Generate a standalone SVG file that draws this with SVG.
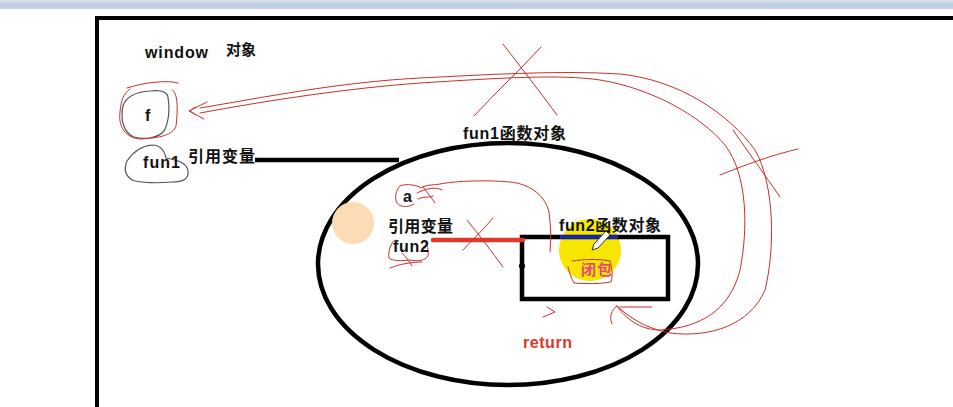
<svg xmlns="http://www.w3.org/2000/svg" width="953" height="407" viewBox="0 0 953 407">
<defs>
<linearGradient id="bar" x1="0" y1="0" x2="0" y2="1">
<stop offset="0" stop-color="#dde5ef"/>
<stop offset="0.5" stop-color="#bccbe0"/>
<stop offset="1" stop-color="#c9d5e6"/>
</linearGradient>
</defs>
<style>
.t{font-family:"Liberation Sans","Noto Sans CJK SC",sans-serif;font-weight:bold;font-size:16px;fill:#111}
.red{fill:none;stroke:#c8302a;stroke-width:1;stroke-linecap:round;stroke-linejoin:round}
.gray{fill:none;stroke:#555;stroke-width:1.2;stroke-linecap:round}
.blk{fill:none;stroke:#000;stroke-width:4.5}
</style>
<rect x="0" y="0" width="953" height="407" fill="#fff"/>
<rect x="0" y="0" width="953" height="9" fill="url(#bar)"/>
<path d="M97,407 V18 H953" fill="none" stroke="#000" stroke-width="4"/>

<g id="window-label">
<text class="t" x="145" y="58" textLength="63">window</text>
<text class="t" x="226" y="55" style="font-size:15px">对象</text>
</g>

<g id="node-f">
<path class="gray" d="M123,106 C126,96 136,92 150,91 C160,90 167,91 168,97 C170,108 169,122 164,131 C158,138 145,140 134,137 C124,133 120,120 123,106 Z"/>
<path class="red" d="M127,88 C145,82 168,80 178,83 M172,90 C178,92 178,110 176,126 C173,135 160,138 140,139 C126,138 118,127 120,112 C121,100 124,93 130,89"/>
<text class="t" x="145" y="121">f</text>
</g>

<g id="node-fun1">
<path class="gray" d="M127,161 C133,152 142,146 152,145 C160,145 164,149 166,158 C178,160 187,163 188,171 C189,179 183,182 172,182 C160,183 145,183 135,181 C126,178 123,170 127,161 Z"/>
<text class="t" x="143" y="168" textLength="37">fun1</text>
<text class="t" x="188" y="162" textLength="67">引用变量</text>
</g>

<g id="fun1-object">
<ellipse class="blk" cx="508" cy="264" rx="190" ry="121"/>
<text class="t" x="463" y="139" textLength="103">fun1函数对象</text>
<circle cx="353" cy="223" r="21" fill="#fcdcb4"/>
</g>

<g id="node-a">
<path class="red" d="M400,186 C396,190 394,198 397,203 C400,207 408,208 414,204 M420,187 C412,184 404,184 400,186"/>
<path class="red" d="M417,193 C425,189 435,186 442,190 M423,187 C428,193 432,199 435,203 M418,199 C424,196 428,198 433,196"/>
<text class="t" x="403" y="202">a</text>
</g>

<g id="node-fun2-ref">
<text class="t" x="388" y="232" textLength="65">引用变量</text>
<path class="red" d="M395,240 C390,244 388,252 389,258 C392,261 402,261 410,260 C418,262 426,260 428,256 C429,250 427,244 424,241 M390,268 C400,264 412,262 422,262 M402,253 C406,257 409,261 412,266"/>
<text class="t" x="393" y="252" textLength="36">fun2</text>
</g>

<g id="fun2-object">
<circle cx="590" cy="250" r="31" fill="#f7e600"/>
<rect class="blk" x="522" y="237" width="146" height="62"/>
<line x1="560" y1="237" x2="618" y2="237" stroke="#1428c8" stroke-width="3.5"/>
<circle cx="522" cy="266" r="3" fill="#000"/>
<text class="t" x="559" y="231" textLength="102">fun2函数对象</text>
<path d="M606,231 L610,235 L598,248 L592,250 L594,244 Z" fill="#fff" stroke="#333" stroke-width="1"/>
<path class="red" d="M572,261 C585,259 600,259 610,261 C612,268 613,276 611,282 C600,284 585,284 574,283 C571,278 569,271 568,267"/>
<text class="t" x="581" y="275" style="font-size:15px;fill:#e8487a" textLength="31">闭包</text>
</g>

<g id="return-label">
<text class="t" x="523" y="348" style="fill:#e0362c" textLength="49">return</text>
</g>

<g id="connectors">
<path d="M255,160 H399" fill="none" stroke="#000" stroke-width="4.5"/>
<line x1="433" y1="240" x2="523" y2="240" stroke="#e0382c" stroke-width="4.5" stroke-linecap="round"/>
<path class="red" d="M467,220 C480,236 492,252 503,267 M493,218 C485,228 472,240 463,250"/>
<path class="red" d="M420,188 C428,184 437,185 440,184 C460,180 500,180 517,183 C533,187 545,196 549,212 C551,226 551,240 550,252"/>
<path class="red" d="M547,307 L555,312 L543,317"/>
<path class="red" d="M200,108 C260,98 340,82 420,78 C480,75 560,70 620,74 C680,80 730,115 755,150 C775,185 775,250 765,290 C750,325 710,338 670,333 C645,328 630,318 617,306"/>
<path class="red" d="M200,113 C270,100 350,88 420,83 C500,78 560,74 600,80 C650,88 700,115 725,145 C748,175 748,230 740,270 C730,310 700,328 660,330 C640,330 625,318 617,306"/>
<path class="red" d="M617,306 C611,310 609,318 612,324 M620,307 L652,307"/>
<path class="red" d="M207,102 L189,111 L204,119 M195,107 L190,111 L196,115"/>
<path class="red" d="M503,44 C520,66 540,92 557,115 M541,47 C520,70 496,92 474,116"/>
<path class="red" d="M733,130 C748,152 765,175 780,197 M720,175 C745,165 772,155 798,149"/>
</g>
</svg>
